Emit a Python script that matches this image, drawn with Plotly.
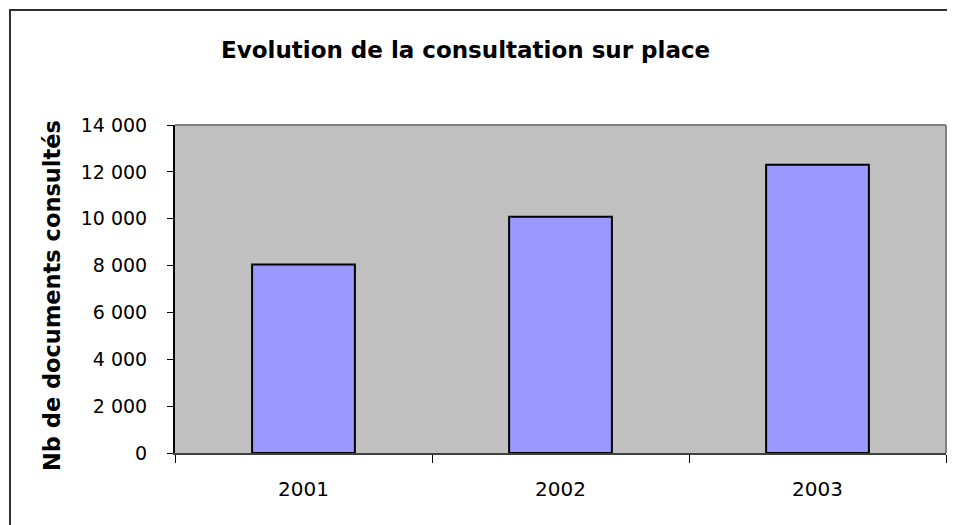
import plotly.graph_objects as go

years = ["2001", "2002", "2003"]
values = [8050, 10080, 12300]
y_ticks = [0, 2000, 4000, 6000, 8000, 10000, 12000, 14000]

# page has an 8px body margin; layout pixel positions below are figure-relative
W, H = 947, 517
L, T, R, B = 167, 117, 938, 445
PW, PH = R - L, B - T

def px(x):
    return (x - L) / PW

def py(y):
    return (B - y) / PH

fig = go.Figure()
fig.add_trace(go.Bar(
    x=years, y=values, width=0.4,
    marker=dict(color="#9999FF", line=dict(color="black", width=2)),
    hoverinfo="skip",
))

font_family = "DejaVu Sans, Liberation Sans, Arial, sans-serif"
fig.update_layout(
    width=W, height=H,
    margin=dict(l=L, r=W - R, t=T, b=H - B),
    paper_bgcolor="white", plot_bgcolor="#C0C0C0",
    separators=", ",
    showlegend=False,
    font=dict(family=font_family, color="black", size=19),
)
fig.update_xaxes(
    type="category", range=[-0.5, 2.5],
    showgrid=False, zeroline=False,
    showline=True, linecolor="#404040", linewidth=2,
    ticks="outside", tickson="boundaries", ticklen=8, tickcolor="black", tickwidth=1,
    tickfont=dict(size=20), ticklabelstandoff=17,
)
fig.update_yaxes(
    range=[0, 14000], tickvals=y_ticks, tickformat=",d",
    showgrid=False, zeroline=False,
    showline=True, linecolor="black", linewidth=2,
    ticks="outside", ticklen=6, tickcolor="black", tickwidth=1,
    tickfont=dict(size=19), ticklabelstandoff=16,
)
# plot area top/right border
fig.add_shape(type="line", xref="paper", yref="paper", x0=0, x1=1, y0=1, y1=1,
              line=dict(color="#808080", width=2))
fig.add_shape(type="line", xref="paper", yref="paper", x0=1, x1=1, y0=0, y1=1,
              line=dict(color="#808080", width=2))
# outer chart border (right and bottom edges lie outside the visible page)
fig.add_shape(type="rect", xref="paper", yref="paper",
              x0=px(2), x1=px(960), y0=py(530), y1=py(2),
              line=dict(color="#303030", width=2), fillcolor="rgba(0,0,0,0)", layer="above")

fig.add_annotation(text="<b>Evolution de la consultation sur place</b>",
                   xref="paper", yref="paper", x=px(457), y=py(42),
                   xanchor="center", yanchor="middle", showarrow=False,
                   font=dict(size=23, family=font_family))
fig.add_annotation(text="<b>Nb de documents consultés</b>",
                   xref="paper", yref="paper", x=px(44), y=py(288),
                   xanchor="center", yanchor="middle", showarrow=False, textangle=-90,
                   font=dict(size=22.5, family=font_family))

fig.write_html("out.html")
